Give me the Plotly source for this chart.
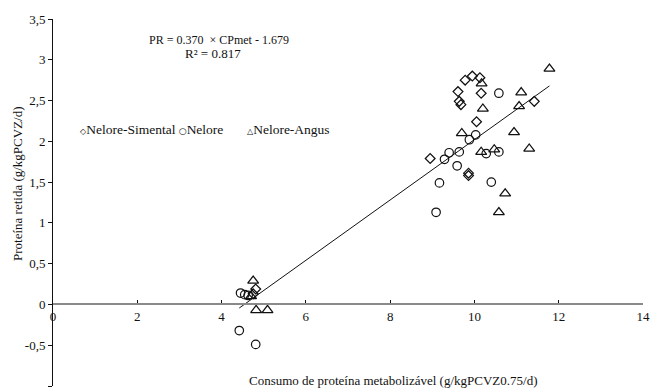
import plotly.graph_objects as go

# Data
simental_x = [9.78, 9.95, 10.13, 9.61, 10.16, 9.64, 9.68, 11.42, 10.05, 8.95, 9.86, 9.86, 4.81, 4.75]
simental_y = [2.75, 2.80, 2.78, 2.61, 2.59, 2.49, 2.45, 2.49, 2.24, 1.79, 1.61, 1.58, 0.19, 0.13]

nelore_x = [10.58, 10.03, 9.88, 9.29, 9.40, 9.64, 10.28, 10.58, 9.59, 9.17, 10.40, 9.09, 4.45, 4.55, 4.63, 4.42, 4.81]
nelore_y = [2.59, 2.08, 2.02, 1.78, 1.86, 1.87, 1.85, 1.87, 1.70, 1.49, 1.50, 1.13, 0.14, 0.12, 0.11, -0.32, -0.49]

angus_x = [10.17, 11.78, 11.11, 11.06, 10.20, 9.70, 10.94, 10.16, 10.47, 11.30, 10.73, 10.58, 4.75, 4.70, 4.82, 5.09]
angus_y = [2.71, 2.89, 2.60, 2.43, 2.40, 2.10, 2.11, 1.87, 1.90, 1.91, 1.36, 1.13, 0.29, 0.10, -0.07, -0.07]

slope = 0.370
intercept = -1.679
fit_x = [4.42, 11.78]
fit_y = [slope * v + intercept for v in fit_x]

y_ticks = [-1, -0.5, 0, 0.5, 1, 1.5, 2, 2.5, 3, 3.5]
y_ticktext = ["-1", "-0,5", "0", "0,5", "1", "1,5", "2", "2,5", "3", "3,5"]
x_ticks = [0, 2, 4, 6, 8, 10, 12, 14]

FONT = "Liberation Serif"
INK = "#111111"

fig = go.Figure()
fig.add_trace(go.Scatter(x=fit_x, y=fit_y, mode="lines",
                         line=dict(color=INK, width=1), showlegend=False, hoverinfo="skip"))
fig.add_trace(go.Scatter(x=simental_x, y=simental_y, mode="markers", name="Nelore-Simental",
                         marker=dict(symbol="diamond-open", size=7.5, color=INK, line=dict(width=1.25, color=INK))))
fig.add_trace(go.Scatter(x=nelore_x, y=nelore_y, mode="markers", name="Nelore",
                         marker=dict(symbol="circle-open", size=8.5, color=INK, line=dict(width=1.2, color=INK))))
fig.add_trace(go.Scatter(x=angus_x, y=angus_y, mode="markers", name="Nelore-Angus",
                         marker=dict(symbol="triangle-up-open", size=9.5, color=INK, line=dict(width=1.25, color=INK))))

fig.update_layout(
    template="none",
    width=654, height=389,
    margin=dict(l=53, r=11, t=19, b=3, autoexpand=False),
    paper_bgcolor="white", plot_bgcolor="white",
    showlegend=False,
    font=dict(family=FONT, size=12, color=INK),
    xaxis=dict(range=[0, 14], tickvals=x_ticks, showgrid=False, zeroline=False,
               showline=True, linecolor="#8a8a8a", linewidth=2, automargin=False,
               anchor="free", position=1 / 4.5,
               ticks="inside", ticklen=3, tickcolor=INK, tickwidth=1,
               tickfont=dict(family=FONT, size=13, color=INK)),
    yaxis=dict(range=[-1, 3.5], tickvals=y_ticks, ticktext=y_ticktext,
               showgrid=False, zeroline=False, automargin=False,
               showline=True, linecolor=INK, linewidth=1,
               ticks="outside", ticklen=4, tickcolor=INK,
               tickfont=dict(family=FONT, size=13, color=INK)),
)

W, H = 654 - 53 - 11, 389 - 19 - 3


def px(x, y):
    return (x - 53) / W, (389 - y - 3) / H


anns = []
for text, cx, cy, fs in [("PR = 0.370 &nbsp;× CPmet - 1.679", 219, 40, 12), ("R² = 0.817", 213, 53, 13)]:
    ax, ay = px(cx, cy)
    anns.append(dict(text=text, x=ax, y=ay, xref="paper", yref="paper", showarrow=False,
                     xanchor="center", yanchor="middle",
                     font=dict(family=FONT, size=fs, color=INK)))

legend_text = ("<span style='font-family:DejaVu Sans;font-size:8px'>◇</span>Nelore-Simental "
               "<span style='font-family:DejaVu Sans;font-size:9px'>○</span>Nelore &nbsp;&nbsp;&nbsp;&nbsp;&nbsp;&nbsp;"
               "<span style='font-family:DejaVu Sans;font-size:8px'>△</span>Nelore-Angus")
ax, ay = px(78, 129)
anns.append(dict(text=legend_text, x=ax, y=ay, xref="paper", yref="paper", showarrow=False,
                 xanchor="left", yanchor="middle",
                 font=dict(family=FONT, size=13.5, color=INK)))
ax, ay = px(393, 380)
anns.append(dict(text="Consumo de proteína metabolizável (g/kgPCVZ0.75/d)",
                 x=ax, y=ay, xref="paper", yref="paper",
                 showarrow=False, xanchor="center", yanchor="middle",
                 font=dict(family=FONT, size=13, color=INK)))
ax, ay = px(17, 184)
anns.append(dict(text="Proteína retida (g/kgPCVZ/d)",
                 x=ax, y=ay, xref="paper", yref="paper",
                 showarrow=False, xanchor="center", yanchor="middle", textangle=-90,
                 font=dict(family=FONT, size=13, color=INK)))
fig.update_layout(annotations=anns)

fig.write_html("out.html", config={"displayModeBar": False},
               post_script="document.body.style.margin='0px';document.body.style.padding='0px';")
